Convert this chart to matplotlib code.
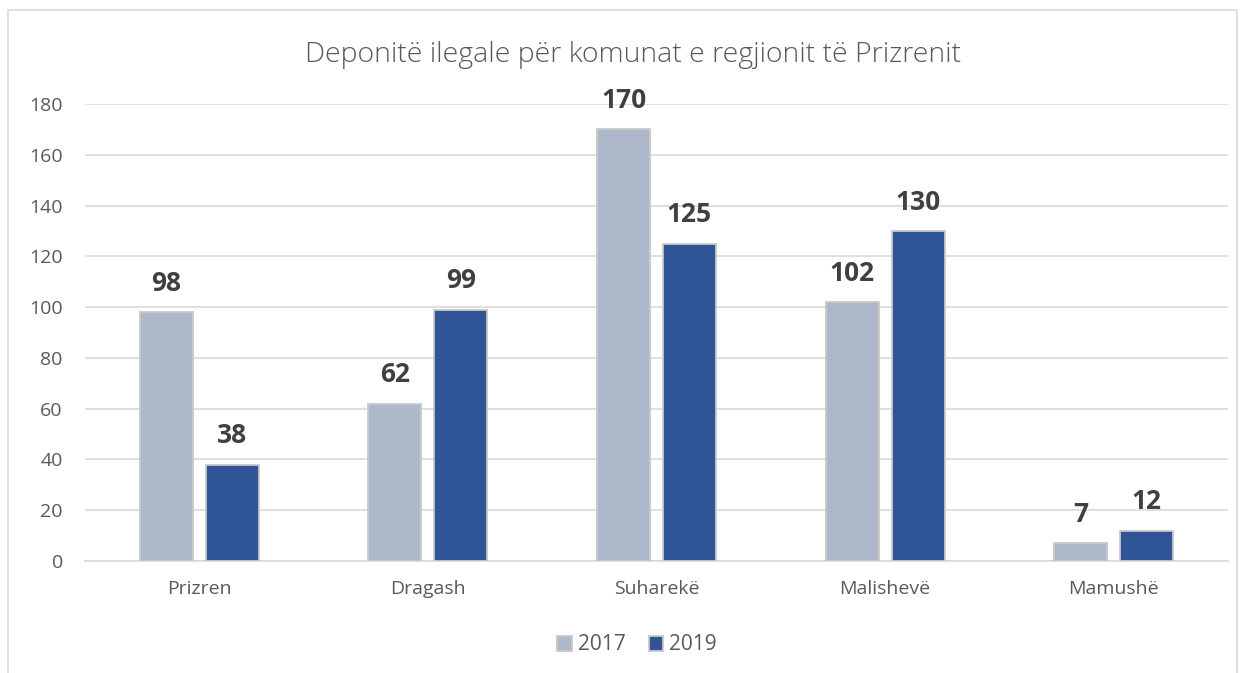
import matplotlib.pyplot as plt
from matplotlib.patches import Rectangle
import numpy as np

plt.rcParams['font.family'] = ['Open Sans', 'DejaVu Sans']

komunat = ['Prizren', 'Dragash', 'Suharekë', 'Malishevë', 'Mamushë']
vitet = ['2017', '2019']
v2017 = [98, 62, 170, 102, 7]
v2019 = [38, 99, 125, 130, 12]
ngjyrat = ['#ADB9CA', '#2F5597']

fig = plt.figure(figsize=(12.46, 6.73), dpi=100)
# chart border
fig.patches.append(Rectangle((8 / 1246, -0.01), 1229 / 1246, 1 - 10 / 673 + 0.01,
                             transform=fig.transFigure, fill=False,
                             edgecolor='#D9D9D9', linewidth=1.2))

ax = fig.add_axes([85 / 1246, 1 - 561 / 673, 1143 / 1246, (561 - 104) / 673])

x = np.arange(len(komunat))
w = 0.232
off = 0.144
for vals, c, lab, d in zip([v2017, v2019], ngjyrat, vitet, [-off, off]):
    bars = ax.bar(x + d, vals, w, color=c, edgecolor='#C9C9C9', linewidth=1.3,
                  label=lab, zorder=3)
    for b, v in zip(bars, vals):
        ax.text(b.get_x() + b.get_width() / 2, v + 6, str(v), ha='center',
                va='bottom', fontsize=19, fontweight='bold', color='#404040')

ax.set_xlim(-0.5, len(komunat) - 0.5)
ax.set_ylim(0, 180)
ax.set_yticks(range(0, 181, 20))
ax.set_xticks(x)
ax.set_xticklabels(komunat)
ax.grid(axis='y', color='#D9D9D9', linewidth=1.2, zorder=0)
for s in ['top', 'right', 'left']:
    ax.spines[s].set_visible(False)
ax.spines['bottom'].set_color('#D9D9D9')
ax.spines['bottom'].set_linewidth(1.2)
ax.tick_params(length=0, labelsize=14, colors='#595959')
ax.tick_params(axis='x', pad=14)
ax.tick_params(axis='y', pad=16)

fig.text(633 / 1246, 1 - 55 / 673, 'Deponitë ilegale për komunat e regjionit të Prizrenit',
         ha='center', va='center', fontsize=20.5, color='#595959', fontweight='light')

fig.legend(loc='center', bbox_to_anchor=(637 / 1246, 1 - 645 / 673), ncol=2, frameon=False,
           fontsize=15, labelcolor='#595959', handlelength=0.7, handleheight=0.7,
           handletextpad=0.3, columnspacing=1.1)

fig.savefig('out.png', dpi=100)
